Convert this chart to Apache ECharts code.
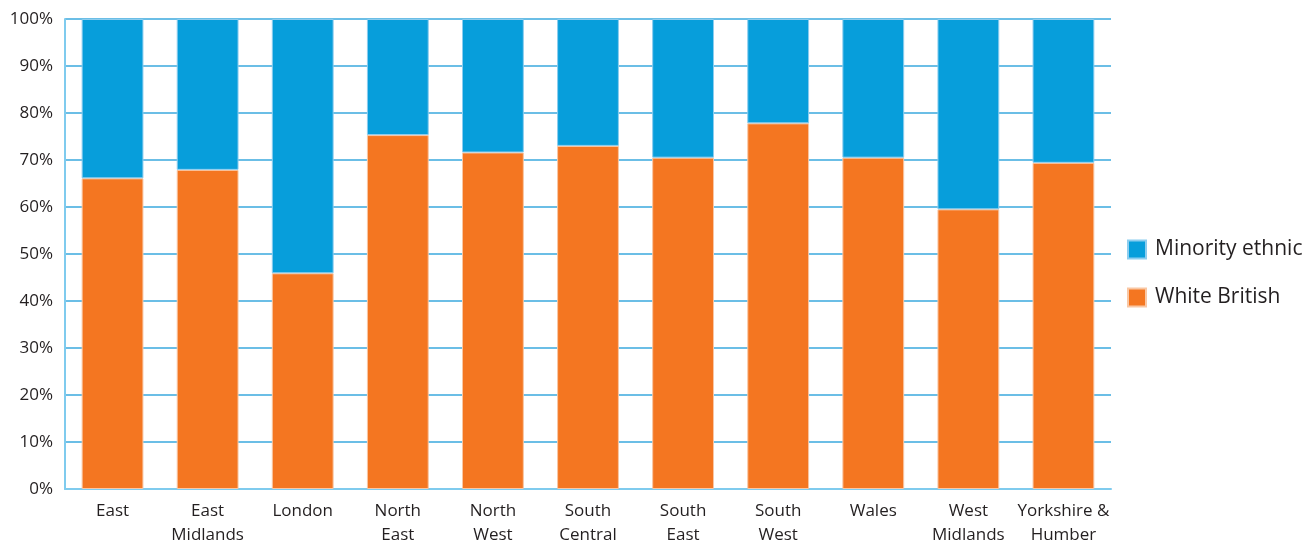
<!DOCTYPE html>
<html><head><meta charset="utf-8">
<script src="https://cdn.jsdelivr.net/npm/echarts@6/dist/echarts.min.js"></script>
<style>html,body{margin:0;padding:0;background:#fff}#c{width:1309px;height:543px}</style>
</head><body><div id="c"></div>
<script>
const categories = ['East','East\nMidlands','London','North\nEast','North\nWest','South\nCentral','South\nEast','South\nWest','Wales','West\nMidlands','Yorkshire &\nHumber'];
const whiteBritish = [66.1, 67.9, 45.9, 75.3, 71.6, 73.0, 70.5, 77.8, 70.5, 59.5, 69.4];
const minorityEthnic = [33.9, 32.1, 54.1, 24.7, 28.4, 27.0, 29.5, 22.2, 29.5, 40.5, 30.6];
const yTicks = [0,10,20,30,40,50,60,70,80,90,100];

const chart = echarts.init(document.getElementById('c'), null, {renderer:'canvas'});
const font = '"Open Sans", "Noto Sans", sans-serif';
chart.setOption({
  animation:false,
  grid:{left:65,right:198,top:19,bottom:54,containLabel:false,outerBoundsMode:'none'},
  legend:{
    orient:'vertical', left:1127, top:239, padding:0,
    data:['Minority ethnic','White British'],
    itemWidth:18, itemHeight:18, itemGap:27, icon:'rect',
    textStyle:{fontSize:21,color:'#231f20',fontFamily:font,padding:[0,0,0,4]}
  },
  xAxis:{
    type:'category', data:categories,
    axisLine:{show:true,lineStyle:{color:'#7fcbee',width:2}},
    axisTick:{show:false},
    axisLabel:{fontSize:17,color:'#231f20',fontFamily:font,lineHeight:24,margin:10,interval:0}
  },
  yAxis:{
    type:'value', min:0, max:100, interval:10,
    axisLine:{show:true,lineStyle:{color:'#7fcbee',width:2}},
    axisTick:{show:false},
    splitLine:{lineStyle:{color:'#3aa8de',width:1.5}},
    axisLabel:{fontSize:17,color:'#231f20',fontFamily:font,margin:12,
      formatter:v=> yTicks.includes(v)? v+'%':''}
  },
  series:[
    {name:'White British',type:'bar',stack:'t',data:whiteBritish,barWidth:'65%',
     itemStyle:{color:'#f47621',borderColor:'#f9c7a4',borderWidth:1}},
    {name:'Minority ethnic',type:'bar',stack:'t',data:minorityEthnic,barWidth:'65%',
     itemStyle:{color:'#079edb',borderColor:'#8ccdef',borderWidth:1}}
  ]
});
</script></body></html>
